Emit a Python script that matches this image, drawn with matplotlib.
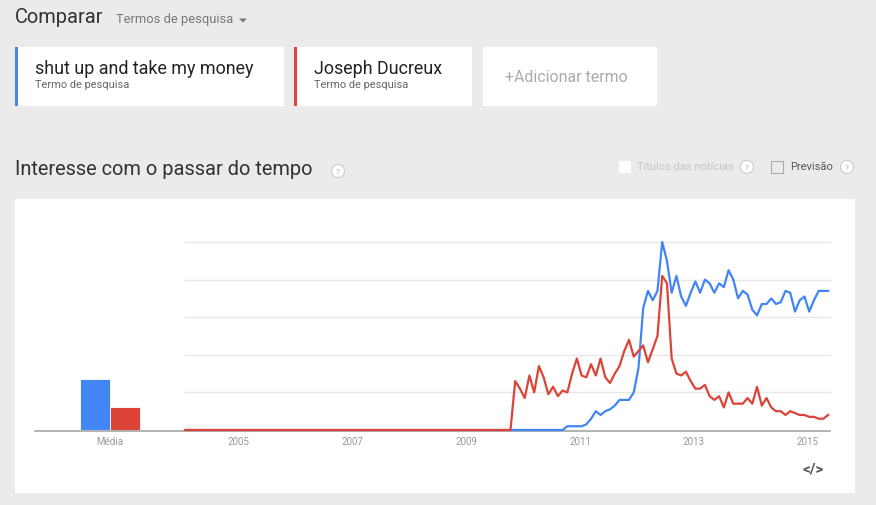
import matplotlib
matplotlib.use("Agg")
import matplotlib.pyplot as plt
from matplotlib.patches import Rectangle, Circle, Polygon
import numpy as np

plt.rcParams['font.family'] = ['Roboto', 'DejaVu Sans']

# ---------------- data ----------------
terms = ["shut up and take my money", "Joseph Ducreux"]
term_subtitle = "Termo de pesquisa"
colors = ["#4285f4", "#db4437"]
avg_label = "Média"
avg_values = [27, 12]
year_labels = ["2005", "2007", "2009", "2011", "2013", "2015"]

# monthly values Jan 2004 .. Apr 2015 (136 months)
blue_tail = [2, 2, 2, 2, 3, 6, 10, 8, 10, 11, 13, 16, 16, 16, 20, 33,
             65, 74, 69, 74, 100, 90, 73, 82, 71, 66, 73, 79, 73, 80,
             78, 73, 78, 76, 85, 80, 70, 74, 72, 64, 61, 67, 67, 70,
             67, 68, 74, 73, 63, 69, 71, 63, 69, 74, 74, 74]
blue = [0] * (136 - len(blue_tail)) + blue_tail

red_tail = [26, 22, 17, 29, 20, 34, 28, 19, 23, 18, 21, 20, 30, 38,
            29, 28, 35, 29, 38, 28, 25, 30, 34, 42, 48, 39, 42, 45,
            36, 43, 50, 82, 78, 38, 30, 29, 31, 26, 22, 22, 24, 18,
            16, 18, 12, 20, 14, 14, 14, 17, 14, 23, 13, 17, 12, 10,
            10, 8, 10, 9, 8, 8, 7, 7, 6, 6, 8]
red = [0] * (136 - len(red_tail)) + red_tail

W, H = 876, 505
fig = plt.figure(figsize=(W / 100, H / 100), dpi=100)
fig.patch.set_facecolor("#ebebeb")

bg = fig.add_axes([0, 0, 1, 1])
bg.set_xlim(0, W)
bg.set_ylim(H, 0)
bg.axis("off")
bg.set_facecolor("#ebebeb")

# header
bg.text(15, 17.5, "Comparar", fontsize=14.4, color="#333333", va="center", ha="left")
bg.text(116, 20, "Termos de pesquisa", fontsize=9.3, color="#777777", va="center", ha="left")
bg.add_patch(Polygon([[239, 18.5], [247, 18.5], [243, 22.5]], closed=True,
                     facecolor="#777777", edgecolor="none"))

# term cards
cards = [(15, 284, terms[0], colors[0]), (294, 472, terms[1], colors[1])]
for x0, x1, label, c in cards:
    bg.add_patch(Rectangle((x0, 47), x1 - x0, 59, facecolor="white", edgecolor="none"))
    bg.add_patch(Rectangle((x0, 47), 3, 59, facecolor=c, edgecolor="none"))
    bg.text(x0 + 20, 68.5, label, fontsize=12.85, color="#222222", va="center", ha="left")
    bg.text(x0 + 20, 85.5, term_subtitle, fontsize=7.9, color="#666666", va="center", ha="left")
bg.add_patch(Rectangle((483, 47), 174, 59, facecolor="white", edgecolor="none"))
bg.text(566, 77.5, "+Adicionar termo", fontsize=11.4, color="#aaaaaa", va="center", ha="center")

# section title
bg.text(15, 169.5, "Interesse com o passar do tempo", fontsize=14.4, color="#333333",
        va="center", ha="left")


def qmark(x, y):
    bg.add_patch(Circle((x, y), 6.5, facecolor="white", edgecolor="#cccccc", lw=0.8))
    bg.text(x, y + 0.5, "?", fontsize=6, color="#aaaaaa", va="center", ha="center")


qmark(338, 171)
bg.add_patch(Rectangle((619, 161), 12, 12, facecolor="white", edgecolor="none"))
bg.text(637, 167, "Títulos das notícias", fontsize=8, color="#c4c4c4", va="center", ha="left")
qmark(747, 167)
bg.add_patch(Rectangle((771, 161), 12, 12, facecolor="none", edgecolor="#aaaaaa", lw=0.8))
bg.text(790, 167, "Previsão", fontsize=8, color="#555555", va="center", ha="left")
qmark(847, 167)

# white chart card
bg.add_patch(Rectangle((15, 199), 840, 294, facecolor="white", edgecolor="none"))
bg.text(813, 469, "</>", fontsize=11, color="#555555", va="center", ha="center",
        fontweight="bold")

# baseline across both charts
bg.plot([35, 830], [430.5, 430.5], color="#9e9e9e", lw=1.1, zorder=1)

# ---------------- line chart ----------------
top_px, base_px = 242, 430
left_px, right_px = 185, 830
x0_px, step = 188.0, 4.742
ax = fig.add_axes([left_px / W, (H - base_px) / H, (right_px - left_px) / W,
                   (base_px - top_px) / H])
ax.set_facecolor("none")
ax.set_xlim((left_px - x0_px) / step, (right_px - x0_px) / step)
ax.set_ylim(0, 100)
k = np.arange(len(blue))
for v in [20, 40, 60, 80, 100]:
    ax.axhline(v, color="#e8e8e8", lw=1.0, zorder=0, clip_on=False)
ax.plot(k, blue, color=colors[0], lw=1.6, zorder=3, solid_joinstyle="round", clip_on=False)
ax.plot(k, red, color=colors[1], lw=1.6, zorder=4, solid_joinstyle="round", clip_on=False)
# red zero segment reaching the left edge of the plot
ax.plot([ax.get_xlim()[0], 0], [red[0], red[0]], color=colors[1], lw=1.6, zorder=4,
        clip_on=False)
ticks = [12 * (int(y) - 2004) - 1.3 for y in year_labels]
ax.set_xticks(ticks)
ax.set_xticklabels(year_labels, fontsize=7, color="#999999")
ax.tick_params(axis="x", length=0, pad=5)
ax.set_yticks([])
for s in ax.spines.values():
    s.set_visible(False)

# ---------------- average bars ----------------
bx0, bx1 = 35, 185
bax = fig.add_axes([bx0 / W, (H - base_px) / H, (bx1 - bx0) / W, (base_px - top_px) / H])
bax.set_facecolor("none")
bax.set_xlim(-2.5, 2.5)
bax.set_ylim(0, 100)
bax.bar([-1, 0], avg_values, width=1.0, align="edge", color=colors,
        edgecolor="white", linewidth=0.6, zorder=2)
bax.set_xticks([0])
bax.set_xticklabels([avg_label], fontsize=7, color="#999999")
bax.tick_params(axis="x", length=0, pad=5)
bax.set_yticks([])
for s in bax.spines.values():
    s.set_visible(False)

fig.savefig("out.png", dpi=100, facecolor=fig.get_facecolor())
